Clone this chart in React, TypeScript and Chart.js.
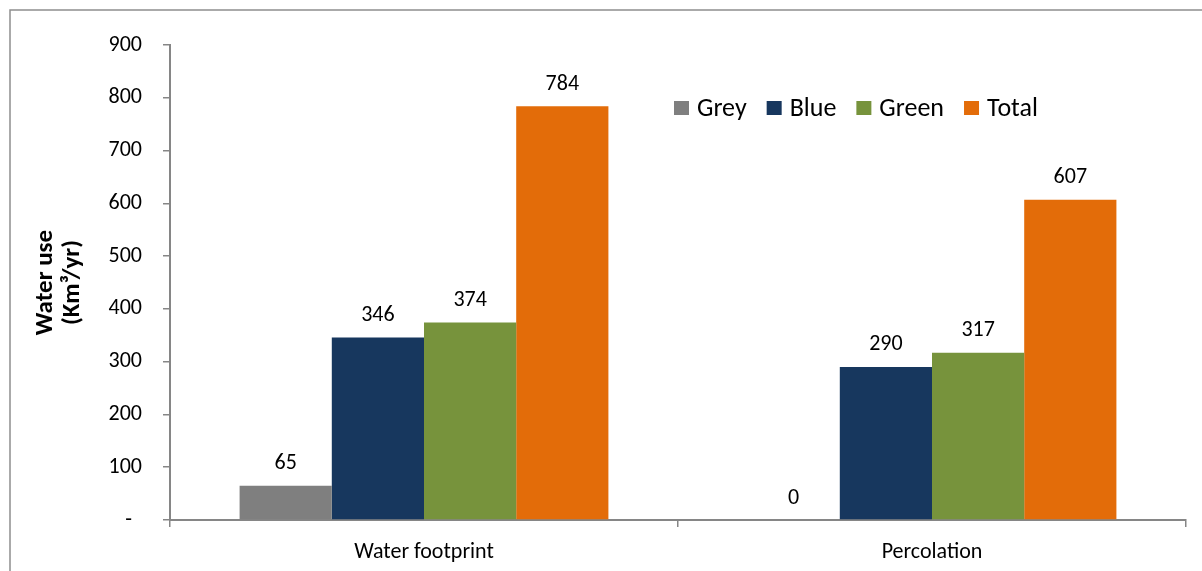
import React, { useEffect, useRef } from "react";
import { Chart, registerables } from "chart.js";

Chart.register(...registerables);

const categories = ["Water footprint", "Percolation"];
const seriesNames = ["Grey", "Blue", "Green", "Total"];
const greyValues = [65, 0];
const blueValues = [346, 290];
const greenValues = [374, 317];
const totalValues = [784, 607];
const seriesColors = ["#7f7f7f", "#17375e", "#77933c", "#e36c09"];
const yTickMax = 900;
const yTickStep = 100;
const yTitleLines = ["Water use", "(Km³/yr)"];

const FONT = "Carlito, Calibri, Lato, 'Open Sans', sans-serif";
const AXIS_COLOR = "#868686";

export default function App() {
  const ref = useRef<HTMLCanvasElement | null>(null);

  useEffect(() => {
    if (!ref.current) return;
    const values = [greyValues, blueValues, greenValues, totalValues];

    const decor = {
      id: "decor",
      beforeDraw(chart: any) {
        const ctx = chart.ctx;
        ctx.save();
        ctx.fillStyle = "#ffffff";
        ctx.fillRect(0, 0, chart.width, chart.height);
        ctx.strokeStyle = "#8e8e8e";
        ctx.lineWidth = 1.5;
        ctx.strokeRect(10, 10, chart.width + 20, chart.height + 20);
        ctx.restore();
      },
      afterDraw(chart: any) {
        const ctx = chart.ctx;
        const area = chart.chartArea;
        ctx.save();
        // y title
        ctx.fillStyle = "#000";
        ctx.font = `bold 25px ${FONT}`;
        ctx.textAlign = "center";
        ctx.textBaseline = "middle";
        const cy = (area.top + area.bottom) / 2;
        const xs = [46, 73];
        yTitleLines.forEach((line, i) => {
          ctx.save();
          ctx.translate(xs[i], cy);
          ctx.rotate(-Math.PI / 2);
          ctx.fillText(line, 0, 0);
          ctx.restore();
        });
        // data labels
        ctx.font = `22px ${FONT}`;
        ctx.textAlign = "center";
        ctx.textBaseline = "middle";
        chart.data.datasets.forEach((ds: any, di: number) => {
          const meta = chart.getDatasetMeta(di);
          meta.data.forEach((el: any, i: number) => {
            ctx.fillText(String(ds.data[i]), el.x, el.y - 22);
          });
        });
        // legend
        ctx.font = `26px ${FONT}`;
        ctx.textAlign = "left";
        let x = 674;
        const ly = 108;
        chart.data.datasets.forEach((ds: any) => {
          ctx.fillStyle = ds.backgroundColor;
          ctx.fillRect(x, ly - 7, 15, 14);
          ctx.fillStyle = "#000";
          ctx.fillText(ds.label, x + 23, ly + 1);
          const w = ctx.measureText(ds.label).width;
          x += 23 + w + 20;
        });
        ctx.restore();
      },
    };

    const chart = new Chart(ref.current, {
      type: "bar",
      data: {
        labels: categories,
        datasets: seriesNames.map((name, i) => ({
          label: name,
          data: values[i],
          backgroundColor: seriesColors[i],
          borderWidth: 0,
          categoryPercentage: 0.726,
          barPercentage: 1.0,
        })),
      },
      options: {
        responsive: false,
        animation: false,
        devicePixelRatio: 1,
        layout: { padding: { left: 0, right: 16, top: 45, bottom: 0 } },
        plugins: {
          legend: { display: false },
          tooltip: { enabled: false },
        },
        scales: {
          x: {
            afterFit: (s: any) => {
              s.height = 51;
            },
            grid: {
              display: true,
              offset: true,
              drawOnChartArea: false,
              drawTicks: true,
              tickLength: 7,
              color: AXIS_COLOR,
              lineWidth: 1.5,
            },
            border: { display: true, color: AXIS_COLOR, width: 2 },
            ticks: {
              color: "#000",
              font: { family: FONT, size: 22 },
              padding: 12,
              maxRotation: 0,
            },
          },
          y: {
            min: 0,
            max: yTickMax,
            afterFit: (s: any) => {
              s.width = 170;
            },
            grid: {
              display: true,
              drawOnChartArea: false,
              drawTicks: true,
              tickLength: 7,
              color: AXIS_COLOR,
              lineWidth: 1.5,
            },
            border: { display: true, color: AXIS_COLOR, width: 2 },
            ticks: {
              stepSize: yTickStep,
              color: "#000",
              font: { family: FONT, size: 22 },
              padding: 21,
              callback: (v: any) => (Number(v) === 0 ? "-  " : String(v)),
            },
          },
        },
      },
      plugins: [decor],
    });
    return () => chart.destroy();
  }, []);

  return (
    <div style={{ position: "fixed", left: 0, top: 0, width: 1202, height: 571, overflow: "hidden", background: "#fff" }}>
      <canvas ref={ref} width={1202} height={571} style={{ width: 1202, height: 571, display: "block" }} />
    </div>
  );
}
